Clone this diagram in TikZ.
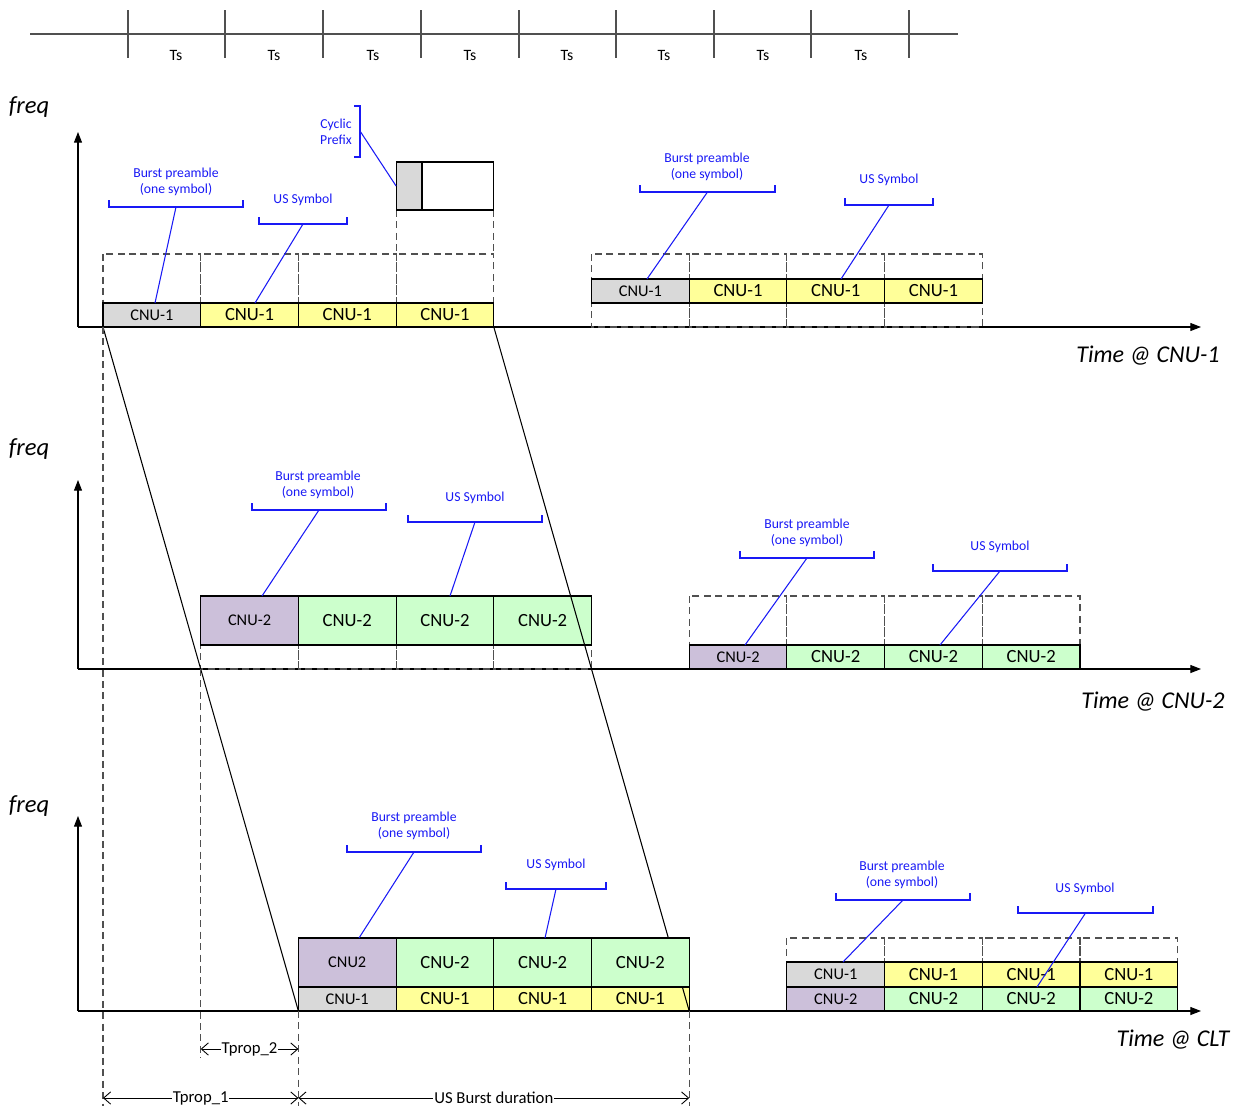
\documentclass[tikz,border=0pt]{standalone}
\usepackage{fontspec}
\setmainfont{Carlito}
\usetikzlibrary{arrows.meta}
\definecolor{cgray}{RGB}{217,217,217}
\definecolor{cyel}{RGB}{255,255,153}
\definecolor{cgreen}{RGB}{204,255,204}
\definecolor{cpurp}{RGB}{204,192,218}
\definecolor{lblue}{RGB}{25,25,245}
\definecolor{dgray}{RGB}{80,80,80}
\newcommand\fbig{\fontsize{10.6}{12}\selectfont}
\newcommand\fsml{\fontsize{9.3}{11}\selectfont}
\newcommand\flab{\fontsize{7.8}{9.4}\selectfont}
% box: name, x1, y1(top), x2, y2(bottom), fill, text
\newcommand\cb[7]{\node[cbox, fill=#6, anchor=north west,
  minimum width={(#4-#2)*0.02cm}, minimum height={(#5-#3)*0.02cm}] (#1) at (#2,#3) {#7};}
% bracket label: name, tx, ty, x1, x2, ybr, text
\newcommand\blab[7]{%
  \node[lab] (#1) at (#2,#3) {#7};
  \draw[bl] (#4,#6-7) -- (#4,#6) -- (#5,#6) -- (#5,#6-7);
  \coordinate (#1m) at ({(#4+#5)/2},#6);}
\begin{document}
\begin{tikzpicture}[x=0.02cm,y=-0.02cm,
  cbox/.style={draw=black, line width=0.6pt, inner sep=0pt, outer sep=0pt},
  dbox/.style={draw=dgray, line width=0.6pt, dash pattern=on 4pt off 2.5pt},
  lab/.style={text=lblue, font=\flab, align=center, inner sep=0pt},
  bl/.style={draw=lblue, line width=0.6pt},
  axis/.style={draw=black, line width=0.6pt, -{Triangle[length=6pt,width=4.5pt]}},
  freqlbl/.style={font=\fontsize{14}{16}\selectfont\itshape, inner sep=0pt},
  timelbl/.style={font=\fontsize{13.7}{16}\selectfont\itshape, inner sep=0pt},
  dim/.style={draw=black, line width=0.5pt, {Straight Barb[length=4pt,width=7pt]}-{Straight Barb[length=4pt,width=7pt]}},
  dimlbl/.style={font=\fontsize{9.5}{11}\selectfont, fill=white, inner sep=0.5pt}]
\useasboundingbox (0,0) rectangle (1234,1106);

% ---------- top time scale ----------
\draw[dgray, line width=0.7pt] (30,34) -- (958,34);
\foreach \x in {128,225,323,421,519,616,714,811,909}
  \draw[dgray, line width=0.7pt] (\x,10) -- (\x,58);
\foreach \x/\i in {176/1,274/2,373/3,470/4,567/5,664/6,763/7,861/8}
  \node[font=\fontsize{9}{10}\selectfont, inner sep=0pt] (ts\i) at (\x,55) {Ts};

% ---------- panel 1 : CNU-1 ----------
\node[freqlbl] (freq1) at (29,107) {freq};
\draw[axis] (78,327) -- (78,132);
\draw[axis] (78,327) -- (1201,327);
\node[timelbl] (time1) at (1148,356) {Time @ CNU-1};
\foreach \x in {103,200.7,298.4,396.1} \draw[dbox] (\x,254) rectangle ++(97.7,73);
\foreach \x in {591.5,689.2,786.9,884.6} \draw[dbox] (\x,254) rectangle ++(97.7,73);
\draw[dbox] (396.1,210) -- (396.1,254);
\draw[dbox] (493.8,210) -- (493.8,254);
\cb{sym}{396.1}{162}{493.8}{210}{white}{}
\cb{cp}{396.1}{162}{422}{210}{cgray}{}
\cb{a1}{103}{303}{200.7}{327}{cgray}{\fsml CNU-1}
\cb{a2}{200.7}{303}{298.4}{327}{cyel}{\fbig CNU-1}
\cb{a3}{298.4}{303}{396.1}{327}{cyel}{\fbig CNU-1}
\cb{a4}{396.1}{303}{493.8}{327}{cyel}{\fbig CNU-1}
\cb{b1}{591.5}{279}{689.2}{303}{cgray}{\fsml CNU-1}
\cb{b2}{689.2}{279}{786.9}{303}{cyel}{\fbig CNU-1}
\cb{b3}{786.9}{279}{884.6}{303}{cyel}{\fbig CNU-1}
\cb{b4}{884.6}{279}{982.3}{303}{cyel}{\fbig CNU-1}
\blab{l1}{176}{182}{109}{243}{207}{Burst preamble\\(one symbol)}
\blab{l2}{303}{200}{259}{347}{224}{US Symbol}
\blab{l3}{707}{167}{640}{775}{192}{Burst preamble\\(one symbol)}
\blab{l4}{889}{180}{845}{933}{205}{US Symbol}
\draw[bl] (l1m) -- (155,303);
\draw[bl] (l2m) -- (255,303);
\draw[bl] (l3m) -- (647,279);
\draw[bl] (l4m) -- (841,279);
\node[lab] (cpl) at (336,132) {Cyclic\\Prefix};
\draw[bl] (354,106) -- (360,106) -- (360,157) -- (354,157);
\coordinate (cpm) at (360,131);
\draw[bl] (cpm) -- (cp.west);

% ---------- panel 2 : CNU-2 ----------
\node[freqlbl] (freq2) at (29,449) {freq};
\draw[axis] (78,669) -- (78,480);
\draw[axis] (78,669) -- (1201,669);
\node[timelbl] (time2) at (1153,702) {Time @ CNU-2};
\foreach \x in {200.7,298.4,396.1,493.8} \draw[dbox] (\x,596) rectangle ++(97.7,73);
\foreach \x in {689.2,786.9,884.6,982.3} \draw[dbox] (\x,596) rectangle ++(97.7,73);
\cb{c1}{200.7}{596}{298.4}{645}{cpurp}{\fsml CNU-2}
\cb{c2}{298.4}{596}{396.1}{645}{cgreen}{\fbig CNU-2}
\cb{c3}{396.1}{596}{493.8}{645}{cgreen}{\fbig CNU-2}
\cb{c4}{493.8}{596}{591.5}{645}{cgreen}{\fbig CNU-2}
\cb{d1}{689.2}{645}{786.9}{669}{cpurp}{\fsml CNU-2}
\cb{d2}{786.9}{645}{884.6}{669}{cgreen}{\fbig CNU-2}
\cb{d3}{884.6}{645}{982.3}{669}{cgreen}{\fbig CNU-2}
\cb{d4}{982.3}{645}{1080}{669}{cgreen}{\fbig CNU-2}
\blab{m1}{318}{485}{252}{386}{510}{Burst preamble\\(one symbol)}
\blab{m2}{475}{498}{408}{542}{522}{US Symbol}
\blab{m3}{807}{533}{740}{874}{558}{Burst preamble\\(one symbol)}
\blab{m4}{1000}{547}{933}{1067}{571}{US Symbol}
\draw[bl] (m1m) -- (262,596);
\draw[bl] (m2m) -- (450,596);
\draw[bl] (m3m) -- (745,645);
\draw[bl] (m4m) -- (940,645);

% ---------- panel 3 : CLT ----------
\node[freqlbl] (freq3) at (29,806) {freq};
\draw[axis] (78,1011) -- (78,816);
\draw[axis] (78,1011) -- (1201,1011);
\node[timelbl] (time3) at (1173,1040) {Time @ CLT};
\foreach \x in {786.9,884.6,982.3,1080} \draw[dbox] (\x,938) rectangle ++(97.7,73);
\cb{e5}{298.4}{987}{396.1}{1011}{cgray}{\fsml CNU-1}
\cb{e6}{396.1}{987}{493.8}{1011}{cyel}{\fbig CNU-1}
\cb{e7}{493.8}{987}{591.5}{1011}{cyel}{\fbig CNU-1}
\cb{e8}{591.5}{987}{689.2}{1011}{cyel}{\fbig CNU-1}
\cb{f1}{786.9}{962}{884.6}{987}{cgray}{\fsml CNU-1}
\cb{f2}{884.6}{962}{982.3}{987}{cyel}{\fbig CNU-1}
\cb{f3}{982.3}{962}{1080}{987}{cyel}{\fbig CNU-1}
\cb{f4}{1080}{962}{1177.7}{987}{cyel}{\fbig CNU-1}
\cb{f5}{786.9}{987}{884.6}{1011}{cpurp}{\fsml CNU-2}
\cb{f6}{884.6}{987}{982.3}{1011}{cgreen}{\fbig CNU-2}
\cb{f7}{982.3}{987}{1080}{1011}{cgreen}{\fbig CNU-2}
\cb{f8}{1080}{987}{1177.7}{1011}{cgreen}{\fbig CNU-2}

% propagation lines
\draw[black, line width=0.6pt] (a1.south west) -- (e5.south west);
\draw[black, line width=0.6pt] (a4.south east) -- (e8.south east);

\cb{e1}{298.4}{938}{396.1}{987}{cpurp}{\fsml CNU2}
\cb{e2}{396.1}{938}{493.8}{987}{cgreen}{\fbig CNU-2}
\cb{e3}{493.8}{938}{591.5}{987}{cgreen}{\fbig CNU-2}
\cb{e4}{591.5}{938}{689.2}{987}{cgreen}{\fbig CNU-2}
\blab{n1}{414}{826}{347}{481}{852}{Burst preamble\\(one symbol)}
\blab{n2}{556}{865}{506}{606}{889}{US Symbol}
\blab{n3}{902}{875}{836}{970}{900}{Burst preamble\\(one symbol)}
\blab{n4}{1085}{889}{1018}{1153}{913}{US Symbol}
\draw[bl] (n1m) -- (359,938);
\draw[bl] (n2m) -- (545,938);
\draw[bl] (n3m) -- (843,962);
\draw[bl] (n4m) -- (1037,987);

% ---------- dimension lines ----------
\draw[dbox] (103,327) -- (103,1106);
\draw[dbox] (200.7,669) -- (200.7,1058);
\draw[dbox] (298.4,1011) -- (298.4,1106);
\draw[dbox] (689.2,1011) -- (689.2,1106);
\coordinate (t2a) at (200.7,1049);
\coordinate (t2b) at (298.4,1049);
\draw[dim] (t2a) -- node[dimlbl] (tp2) {Tprop\_2} (t2b);
\coordinate (t1a) at (103,1098);
\coordinate (t1b) at (298.4,1098);
\coordinate (t1c) at (689.2,1098);
\draw[dim] (t1a) -- node[dimlbl] (tp1) {Tprop\_1} (t1b);
\draw[dim] (t1b) -- node[dimlbl] (usb) {US Burst duration} (t1c);
\end{tikzpicture}
\end{document}
